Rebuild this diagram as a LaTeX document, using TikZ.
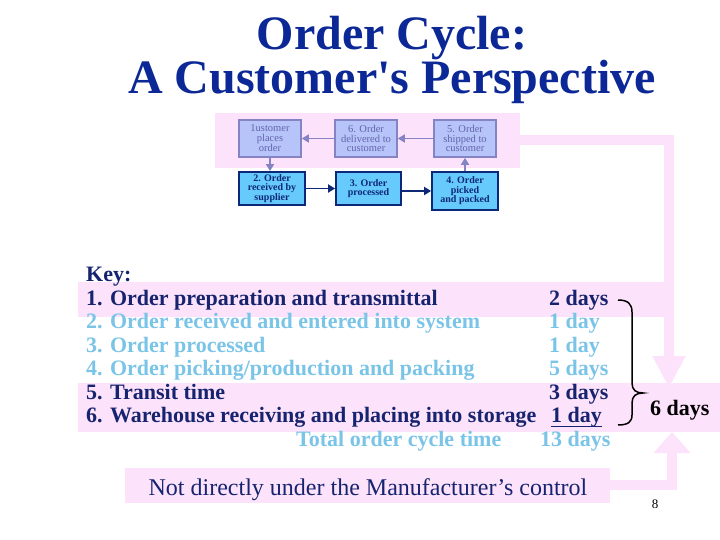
\documentclass[tikz,border=0pt]{standalone}
\usepackage{fontspec}
\setmainfont{Liberation Serif}
\usetikzlibrary{arrows.meta}

\definecolor{TitleBlue}{RGB}{12,40,150}
\definecolor{KeyNavy}{RGB}{22,36,112}
\definecolor{KeyLight}{RGB}{122,196,232}
\definecolor{PinkBand}{RGB}{252,226,250}
\definecolor{TopFill}{RGB}{182,196,250}
\definecolor{TopLine}{RGB}{132,132,196}
\definecolor{TopText}{RGB}{100,100,170}
\definecolor{LowFill}{RGB}{102,202,252}
\definecolor{LowLine}{RGB}{14,40,120}

\begin{document}
\begin{tikzpicture}[x=1pt,y=-1pt,
    topbox/.style={draw=TopLine,line width=1.6pt,fill=TopFill,text=TopText,
        minimum width=62pt,minimum height=37pt,inner sep=1pt,align=center,
        font=\fontsize{10.5}{9.5}\selectfont},
    lowbox/.style={draw=LowLine,line width=1.8pt,fill=LowFill,text=LowLine,
        minimum width=66pt,minimum height=33pt,inner sep=1pt,align=center,
        font=\fontsize{10}{9.5}\selectfont\bfseries},
    toparrow/.style={TopLine,line width=1.6pt,-{Triangle[length=7pt,width=8pt]}},
    lowarrow/.style={LowLine,line width=1.8pt,-{Triangle[length=7pt,width=8pt]}},
    keydark/.style={anchor=base west,inner sep=0pt,text=KeyNavy,
        font=\fontsize{22}{24}\selectfont\bfseries},
    keylight/.style={keydark,text=KeyLight},
    bigarrow/.style={PinkBand,line width=10pt}]
    \useasboundingbox (0,0) rectangle (720,540);

    % pink bands
    \fill[PinkBand] (215,113) rectangle (520,168);
    \fill[PinkBand] (78,282) rectangle (672,317);
    \fill[PinkBand] (78,383) rectangle (720,432);
    \fill[PinkBand] (125,468) rectangle (610,503);

    % title
    \node[text=TitleBlue,font=\fontsize{48}{44}\selectfont\bfseries,
        align=center,anchor=base] (title) at (392,94)
        {Order Cycle:\\A Customer\textquotesingle s Perspective};

    % pink arrows
    \coordinate (bandout) at (520,140);
    \coordinate (bandturn) at (669,140);
    \coordinate (bandin) at (669,388);
    \coordinate (ctrlout) at (608,485);
    \coordinate (ctrlturn) at (672,485);
    \coordinate (ctrlin) at (672,432);
    \draw[bigarrow,-{Triangle[length=32pt,width=31pt]}]
        (bandout) -- (bandturn) -- (bandin);
    \draw[bigarrow,-{Triangle[length=21pt,width=36pt]}]
        (ctrlout) -- (ctrlturn) -- (ctrlin);

    % cycle boxes
    \node[topbox] (cust) at (270,138.5) {1ustomer\\places\\order};
    \node[topbox] (deliv) at (366,138.5) {6. Order\\delivered to\\customer};
    \node[topbox] (ship) at (465,138.5) {5. Order\\shipped to\\customer};
    \node[lowbox] (recv) at (272,188.5) {2. Order\\received by\\supplier};
    \node[lowbox,minimum width=65pt] (proc) at (368.5,188.5) {3. Order\\processed};
    \node[lowbox,minimum height=38pt] (pick) at (465,191) {4. Order\\picked\\and packed};

    \draw[toparrow] (ship) -- (deliv);
    \draw[toparrow] (deliv) -- (cust);
    \draw[toparrow] (cust.south) -- (cust.south |- recv.north);
    \draw[lowarrow] (recv.east |- proc) -- (proc);
    \draw[lowarrow] (proc.east |- pick) -- (pick);
    \draw[toparrow] (pick.north) -- (ship.south);

    % key
    \node[keydark] (key) at (86,281) {Key:};
    \node[keydark] (kone) at (86,305) {1. Order preparation and transmittal};
    \node[keylight] (ktwo) at (86,328.5) {2. Order received and entered into system};
    \node[keylight] (kthree) at (86,352) {3. Order processed};
    \node[keylight] (kfour) at (86,375.5) {4. Order picking/production and packing};
    \node[keydark] (kfive) at (86,399) {5. Transit time};
    \node[keydark] (ksix) at (86,422.5) {6. Warehouse receiving and placing into storage};
    \node[keylight] (ktotal) at (296,446) {Total order cycle time};

    \node[keydark] (done) at (549,305) {2 days};
    \node[keylight] (dtwo) at (549,328.5) {1 day};
    \node[keylight] (dthree) at (549,352) {1 day};
    \node[keylight] (dfour) at (549,375.5) {5 days};
    \node[keydark] (dfive) at (549,399) {3 days};
    \node[keydark] (dsix) at (551,422.5) {1 day};
    \node[keylight] (dtotal) at (540,446) {13 days};
    \draw[KeyNavy,line width=1.6pt]
        ([yshift=-4pt]dsix.base west) -- ([yshift=-4pt]dsix.base east);

    % brace
    \draw[line width=1.5pt]
        (618,300) .. controls (628,300) and (632,304) .. (632,312)
        -- (632,383) .. controls (632,390) and (636,393) .. (643,393)
        .. controls (636,393) and (632,396) .. (632,403)
        -- (632,415) .. controls (632,422) and (628,425) .. (618,425);
    \node[keydark,text=black] (sixdays) at (650,415) {6 days};

    % bottom note
    \node[anchor=base,inner sep=0pt,text=KeyNavy,font=\fontsize{24}{26}\selectfont]
        (note) at (368,495) {Not directly under the Manufacturer’s control};
    \node[font=\fontsize{13}{13}\selectfont,inner sep=0pt] (page) at (655,504) {8};
\end{tikzpicture}
\end{document}
